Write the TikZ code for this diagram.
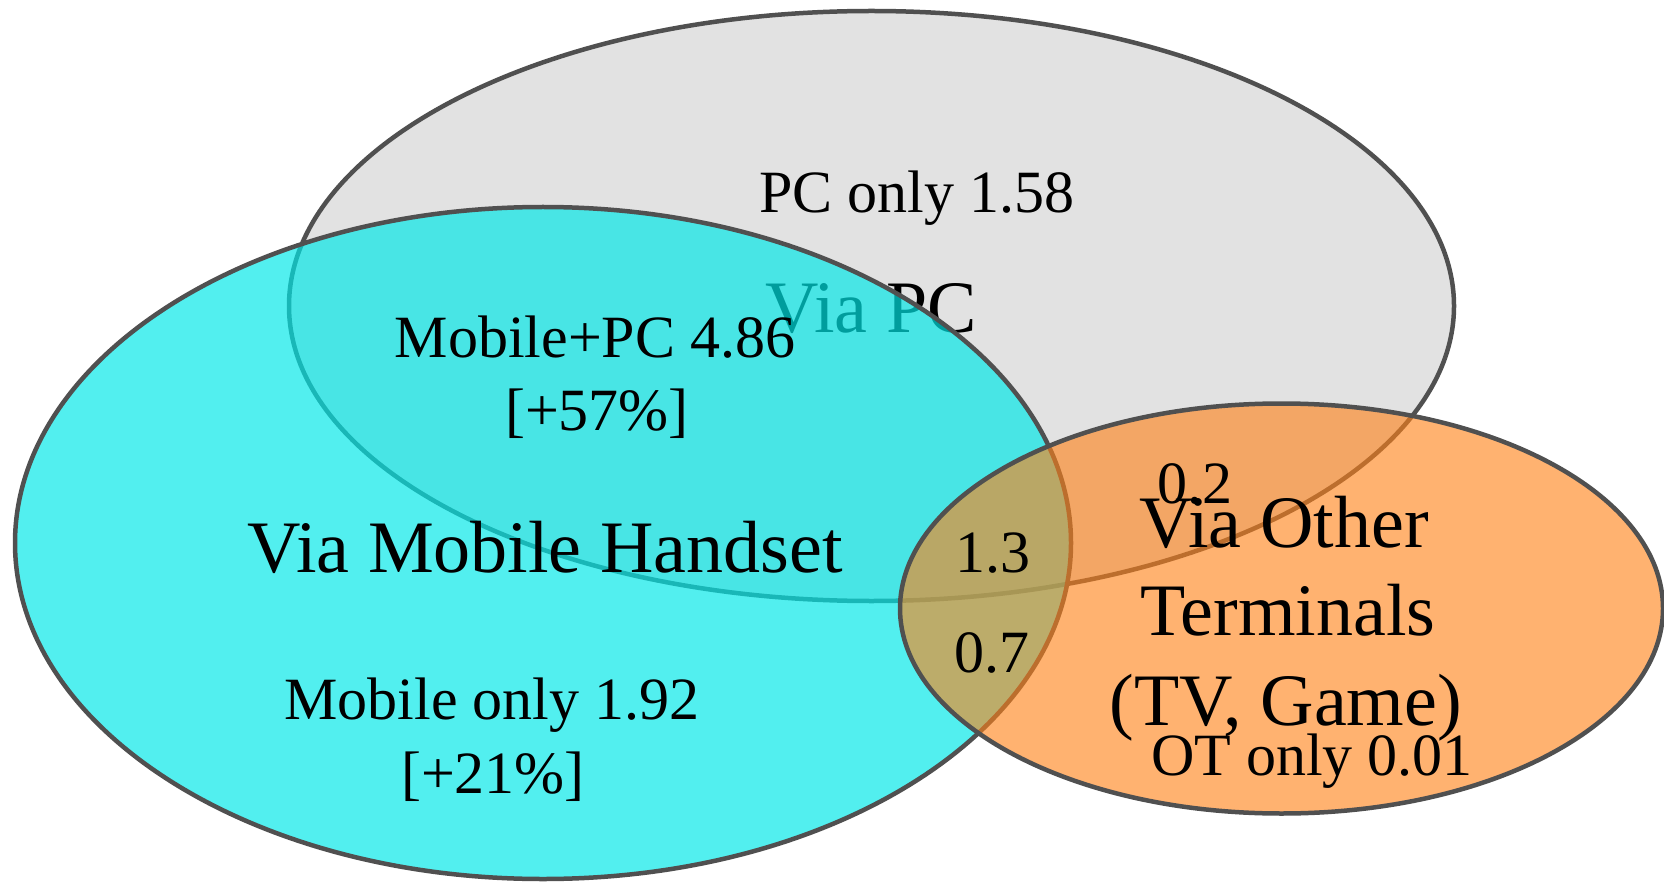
\documentclass[tikz,border=0pt]{standalone}
\usepackage{fontspec}
\setmainfont{Liberation Serif}
\definecolor{edgegray}{RGB}{80,80,80}
\definecolor{pcfill}{RGB}{190,190,190}
\definecolor{mobfill}{RGB}{0,232,232}
\definecolor{otfill}{RGB}{255,130,25}
\begin{document}
\begin{tikzpicture}[x=1pt,y=-1pt,
  lbl/.style={font=\fontsize{60}{72}\selectfont, anchor=base, inner sep=0pt},
  big/.style={font=\fontsize{74}{88}\selectfont, anchor=base, inner sep=0pt},
  setedge/.style={draw=edgegray, line width=4.5pt}]
\useasboundingbox (0,0) rectangle (1664,882);
% PC set
\filldraw[setedge, fill=pcfill, fill opacity=0.45] (871.5,306) ellipse [x radius=582.5, y radius=295];
\node[big] (viapc) at (871,332) {Via PC};
% Mobile set
\filldraw[setedge, fill=mobfill, fill opacity=0.68] (543,543) ellipse [x radius=528, y radius=336];
% Other terminals set
\filldraw[setedge, fill=otfill, fill opacity=0.62] (1281.5,608.5) ellipse [x radius=381.5, y radius=205];
% labels
\node[lbl] (pconly) at (917,213) {PC only 1.58};
\node[lbl] (mobpc) at (595,357) {Mobile+PC 4.86};
\node[lbl] (mobpcpct) at (597,430) {[+57\%]};
\node[big] (viamob) at (545,572) {Via Mobile Handset};
\node[lbl] (mobonly) at (492,719) {Mobile only 1.92};
\node[lbl] (mobonlypct) at (493,793) {[+21\%]};
\node[lbl] (v13) at (993,572) {1.3};
\node[lbl] (v07) at (992,672) {0.7};
\node[big] (viaot1) at (1284,547) {Via Other};
\node[lbl] (v02) at (1195,503) {0.2};
\node[big] (viaot2) at (1288,635) {Terminals};
\node[big] (viaot3) at (1286,725) {(TV, Game)};
\node[lbl] (otonly) at (1312,775) {OT only 0.01};
\end{tikzpicture}
\end{document}
